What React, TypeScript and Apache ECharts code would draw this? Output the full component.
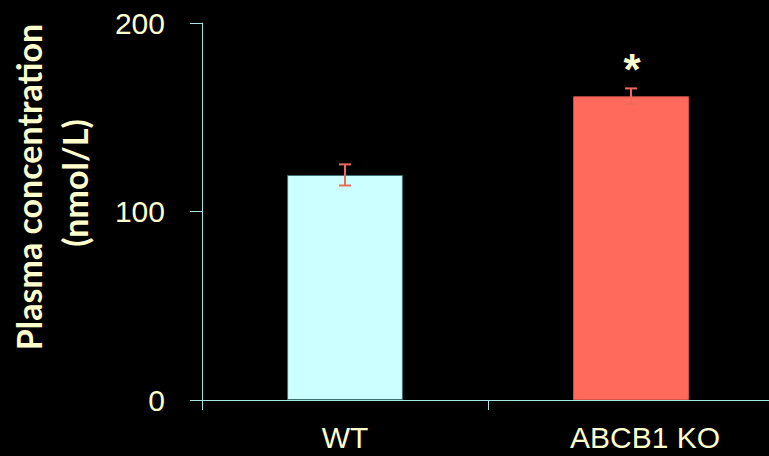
import React, { useEffect, useRef } from "react";
import * as echarts from "echarts";

const categories = ["WT", "ABCB1 KO"];
const means = [119.4, 161.1];
const errors = [5.6, 4.2];
const significance = ["", "*"];
const barColors = ["#CCFFFF", "#FF6A5C"];
const barBorders = ["#3E7070", "#D85548"];
const yTicks = { min: 0, max: 200, interval: 100 };
const titleLines = ["Plasma concentration", "(nmol/L)"];

const TEXT = "#FFFFCC";
const AXIS = "#A8E4E4";
const ERR = "#F06A5C";

export default function App() {
  const ref = useRef<HTMLDivElement>(null);
  useEffect(() => {
    if (!ref.current) return;
    const chart = echarts.init(ref.current, null, { renderer: "svg" });
    chart.setOption({
      animation: false,
      backgroundColor: "#000000",
      grid: { left: 202, width: 572, top: 23, height: 377, outerBoundsMode: "none", containLabel: false },
      graphic: [
        {
          type: "text",
          x: 28,
          y: 187,
          rotation: Math.PI / 2,
          style: {
            text: titleLines[0],
            font: "bold 34px Lato",
            fill: TEXT,
            align: "center",
            verticalAlign: "middle",
          },
        },
        {
          type: "text",
          x: 74,
          y: 183,
          rotation: Math.PI / 2,
          style: {
            text: titleLines[1],
            font: "bold 34px Lato",
            fill: TEXT,
            align: "center",
            verticalAlign: "middle",
          },
        },
      ],
      xAxis: {
        type: "category",
        data: categories,
        axisLine: { lineStyle: { color: AXIS, width: 1 } },
        axisTick: { show: true, length: 10, interval: 0, lineStyle: { color: AXIS } },
        axisLabel: {
          interval: 0,
          hideOverlap: false,
          showMinLabel: true,
          showMaxLabel: true,
          color: TEXT,
          fontFamily: "Liberation Sans, Arial",
          fontSize: 30,
          margin: 22,
          formatter: (v: string, i: number) => (i === 1 ? `{shift|${v}}` : v),
          rich: {
            shift: {
              color: TEXT,
              fontFamily: "Liberation Sans, Arial",
              fontSize: 30,
              padding: [0, 0, 0, 28],
            },
          },
        },
      },
      yAxis: {
        type: "value",
        min: yTicks.min,
        max: yTicks.max,
        interval: yTicks.interval,
        axisLine: { show: true, lineStyle: { color: AXIS, width: 1 } },
        axisTick: { show: true, length: 12, lineStyle: { color: AXIS } },
        splitLine: { show: false },
        axisLabel: {
          color: TEXT,
          fontFamily: "Liberation Sans, Arial",
          fontSize: 30,
          margin: 37,
        },
      },
      series: [
        {
          type: "bar",
          barWidth: "40.5%",
          data: means.map((v, i) => ({
            value: v,
            itemStyle: { color: barColors[i], borderColor: barBorders[i], borderWidth: 1 },
          })),
        },
        {
          type: "custom",
          data: means.map((v, i) => [i, v, errors[i], significance[i]]),
          z: 10,
          renderItem: (params: any, api: any) => {
            const i = api.value(0);
            const m = api.value(1);
            const e = api.value(2);
            const idx = params.dataIndex;
            const top = api.coord([i, m + e]);
            const bot = api.coord([i, m - e]);
            const cap = 6;
            const children: any[] = [
              { type: "line", shape: { x1: top[0], y1: top[1], x2: bot[0], y2: bot[1] }, style: { stroke: ERR, lineWidth: 2 } },
              { type: "line", shape: { x1: top[0] - cap, y1: top[1], x2: top[0] + cap, y2: top[1] }, style: { stroke: ERR, lineWidth: 2 } },
              { type: "line", shape: { x1: bot[0] - cap, y1: bot[1], x2: bot[0] + cap, y2: bot[1] }, style: { stroke: ERR, lineWidth: 2 } },
            ];
            const sig = significance[idx];
            if (sig) {
              children.push({
                type: "text",
                x: top[0] + 1,
                y: top[1] + 3,
                style: {
                  text: sig,
                  font: "bold 44px Liberation Sans, Arial",
                  fill: TEXT,
                  align: "center",
                  verticalAlign: "bottom",
                },
              });
            }
            return { type: "group", children };
          },
        },
      ],
    });
    return () => chart.dispose();
  }, []);
  return <div ref={ref} style={{ width: 769, height: 456, position: "fixed", left: 0, top: 0 }} />;
}
